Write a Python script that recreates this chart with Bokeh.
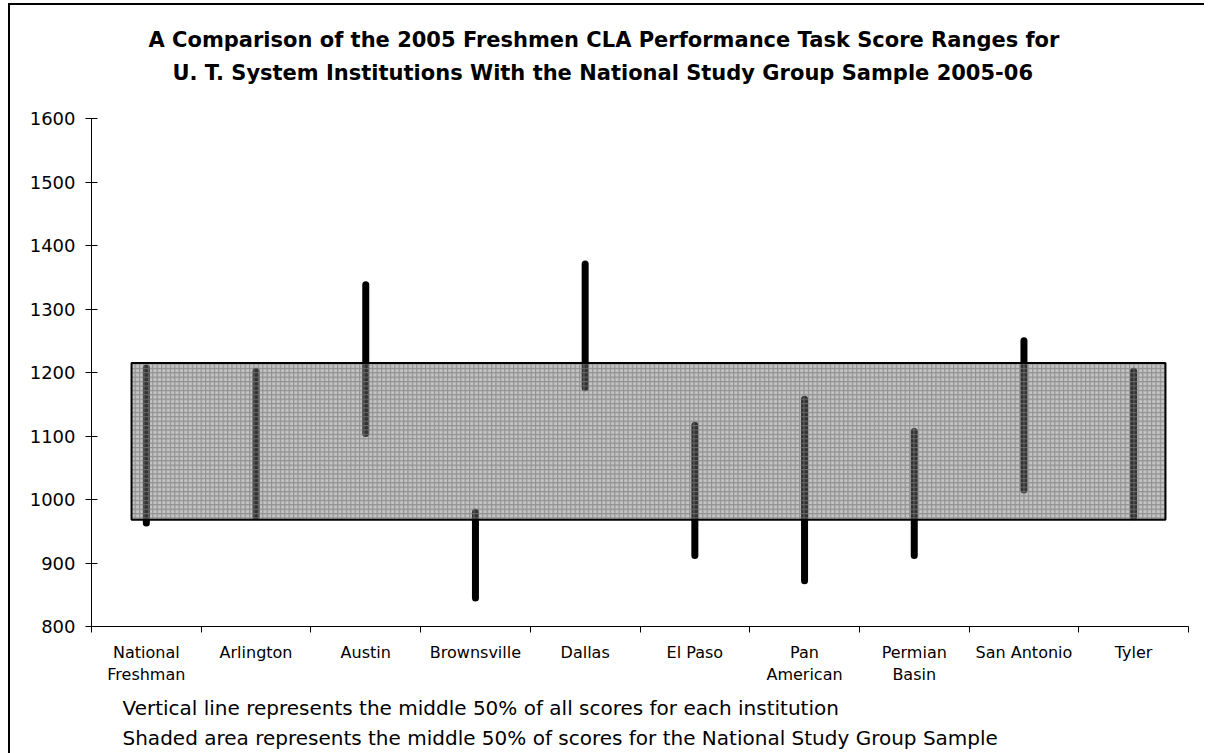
from bokeh.plotting import figure
from bokeh.models import FixedTicker, CustomJSTickFormatter, Title, Range1d
from bokeh.embed import file_html
from bokeh.resources import INLINE

# ---- data ----
institutions = ["National\nFreshman", "Arlington", "Austin", "Brownsville", "Dallas",
                "El Paso", "Pan\nAmerican", "Permian\nBasin", "San Antonio", "Tyler"]
low_scores = [963, 973, 1104, 845, 1176, 912, 872, 912, 1015, 973]
high_scores = [1207, 1202, 1338, 980, 1371, 1117, 1158, 1107, 1250, 1202]
national_low = 968
national_high = 1215
y_ticks = [800, 900, 1000, 1100, 1200, 1300, 1400, 1500, 1600]

title_lines = ["A Comparison of the 2005 Freshmen CLA Performance Task Score Ranges for",
               "U. T. System Institutions With the National Study Group Sample 2005-06"]
notes = ["Vertical line represents the middle 50% of all scores for each institution",
         "Shaded area represents the middle 50% of scores for the National Study Group Sample"]

FONT = "DejaVu Sans"
n = len(institutions)
centers = [i + 0.5 for i in range(n)]

p = figure(width=1204, height=753, output_backend="svg", toolbar_location=None,
           x_range=Range1d(0, n), y_range=Range1d(800, 1600),
           min_border_left=91, min_border_right=16, min_border_top=118, min_border_bottom=127)
p.outline_line_color = None
p.xgrid.visible = False
p.ygrid.visible = False
p.stylesheets = [
    ":host { position: relative; overflow: hidden; }"
    ":host::after { content: ''; position: absolute; left: 8px; top: 3px; width: 3000px; height: 3000px;"
    " border-left: 2px solid black; border-top: 2px solid black; border-right: none; border-bottom: none;"
    " pointer-events: none; }"
]

# shaded national band
p.quad(left=0.365, right=9.79, bottom=national_low, top=national_high,
       fill_color="#c4c4c4", line_color=None,
       hatch_pattern="+", hatch_color="#8c8c8c", hatch_weight=1, hatch_scale=4.4)

# vertical lines
p.segment(x0=centers, x1=centers, y0=low_scores, y1=high_scores,
          line_color="black", line_width=7, line_cap="round")

# overlay of band to tint the lines inside it
p.quad(left=0.365, right=9.79, bottom=national_low, top=national_high,
       fill_color="#c4c4c4", fill_alpha=0.25, line_color="black", line_width=2,
       hatch_pattern="+", hatch_color="#8c8c8c", hatch_weight=1, hatch_scale=4.4, hatch_alpha=0.6)

# axes
p.xaxis.ticker = FixedTicker(ticks=centers, minor_ticks=list(range(n + 1)))
p.xaxis.formatter = CustomJSTickFormatter(args=dict(labels=institutions),
                                          code="return labels[Math.floor(tick)];")
p.xaxis.major_tick_in = 0
p.xaxis.major_tick_out = 0
p.xaxis.minor_tick_in = 0
p.xaxis.minor_tick_out = 6
p.xaxis.minor_tick_line_color = "black"
p.xaxis.axis_line_color = "black"
p.xaxis.major_label_text_font = FONT
p.xaxis.major_label_text_font_size = "16px"
p.xaxis.major_label_text_color = "black"
p.xaxis.major_label_standoff = 10

p.yaxis.ticker = FixedTicker(ticks=y_ticks, minor_ticks=[])
p.yaxis.major_tick_in = 6
p.yaxis.major_tick_out = 6
p.yaxis.major_tick_line_color = "black"
p.yaxis.axis_line_color = "black"
p.yaxis.major_label_text_font = FONT
p.yaxis.major_label_text_font_size = "18px"
p.yaxis.major_label_text_color = "black"
p.yaxis.major_label_standoff = 10

# title: spacer nearest the plot, then second line, then first line
p.add_layout(Title(text=" ", text_font_size="1px", standoff=30), "above")
p.add_layout(Title(text=title_lines[1], align="left", offset=81, standoff=2,
                   text_font=FONT, text_font_style="bold", text_font_size="21px",
                   text_color="black"), "above")
p.add_layout(Title(text=title_lines[0], align="left", offset=57, standoff=11,
                   text_font=FONT, text_font_style="bold", text_font_size="21px",
                   text_color="black"), "above")

# footnotes
p.add_layout(Title(text=notes[0], align="left", offset=31, standoff=12,
                   text_font=FONT, text_font_style="normal", text_font_size="20px",
                   text_color="black"), "below")
p.add_layout(Title(text=notes[1], align="left", offset=31, standoff=0, vertical_align="top",
                   text_font=FONT, text_font_style="normal", text_font_size="20px",
                   text_color="black"), "below")

open("out.html", "w").write(file_html(p, INLINE))
